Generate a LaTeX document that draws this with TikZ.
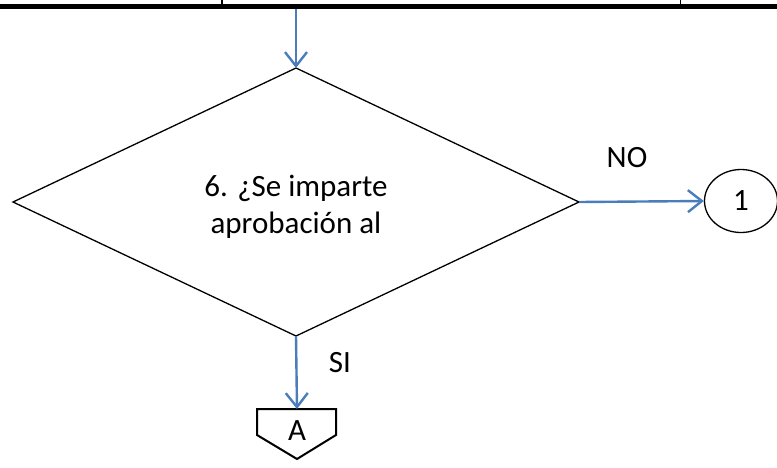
\documentclass[tikz,border=0pt]{standalone}
\usepackage{fontspec}
\setmainfont{Carlito}
\usetikzlibrary{arrows.meta,shapes.geometric}
\definecolor{flowblue}{RGB}{74,126,187}
\tikzset{
  flow/.style={draw=flowblue, line width=2.4pt, -{Straight Barb[length=14pt,width=22pt,line width=2.4pt]}},
  lbl/.style={font=\fontsize{31}{37}\selectfont, inner sep=0pt},
}
\begin{document}
\begin{tikzpicture}[x=1pt,y=-1pt]
\useasboundingbox (0,0) rectangle (777,467);
% top table border
\draw[line width=5pt] (0,6.5) -- (777,6.5);
\draw[line width=2pt] (222,0) -- (222,6);
\draw[line width=1pt] (680,0) -- (680,6);
\coordinate (top) at (296,9);
% diamond
\coordinate (dT) at (296,68);
\coordinate (dL) at (13,202);
\coordinate (dR) at (579,202);
\coordinate (dB) at (296,336);
\draw[line width=1.3pt, line join=miter] (dT) -- (dR) -- (dB) -- (dL) -- cycle;
\node[lbl, align=center] (q) at (296,207) {6. ¿Se imparte\\aprobación al};
% connector circle
\node[draw, line width=1.3pt, ellipse, minimum width=73pt, minimum height=63pt, inner sep=0pt] (c1) at (741,201) {};
\node[lbl] at (c1.center) {1};
% off-page connector
\coordinate (pA) at (297,409);
\draw[line width=2pt, line join=miter] (257,409) -- (336,409) -- (336,435) -- (297,459) -- (257,435) -- cycle;
\node[lbl] (A) at (297,431) {A};
% arrows
\draw[flow] (top) -- (dT);
\draw[flow] (dR) -- (c1.west);
\draw[flow] (dB) -- (pA);
\node[lbl] (no) at (627,158) {NO};
\node[lbl] (si) at (340,363) {SI};
\end{tikzpicture}
\end{document}
